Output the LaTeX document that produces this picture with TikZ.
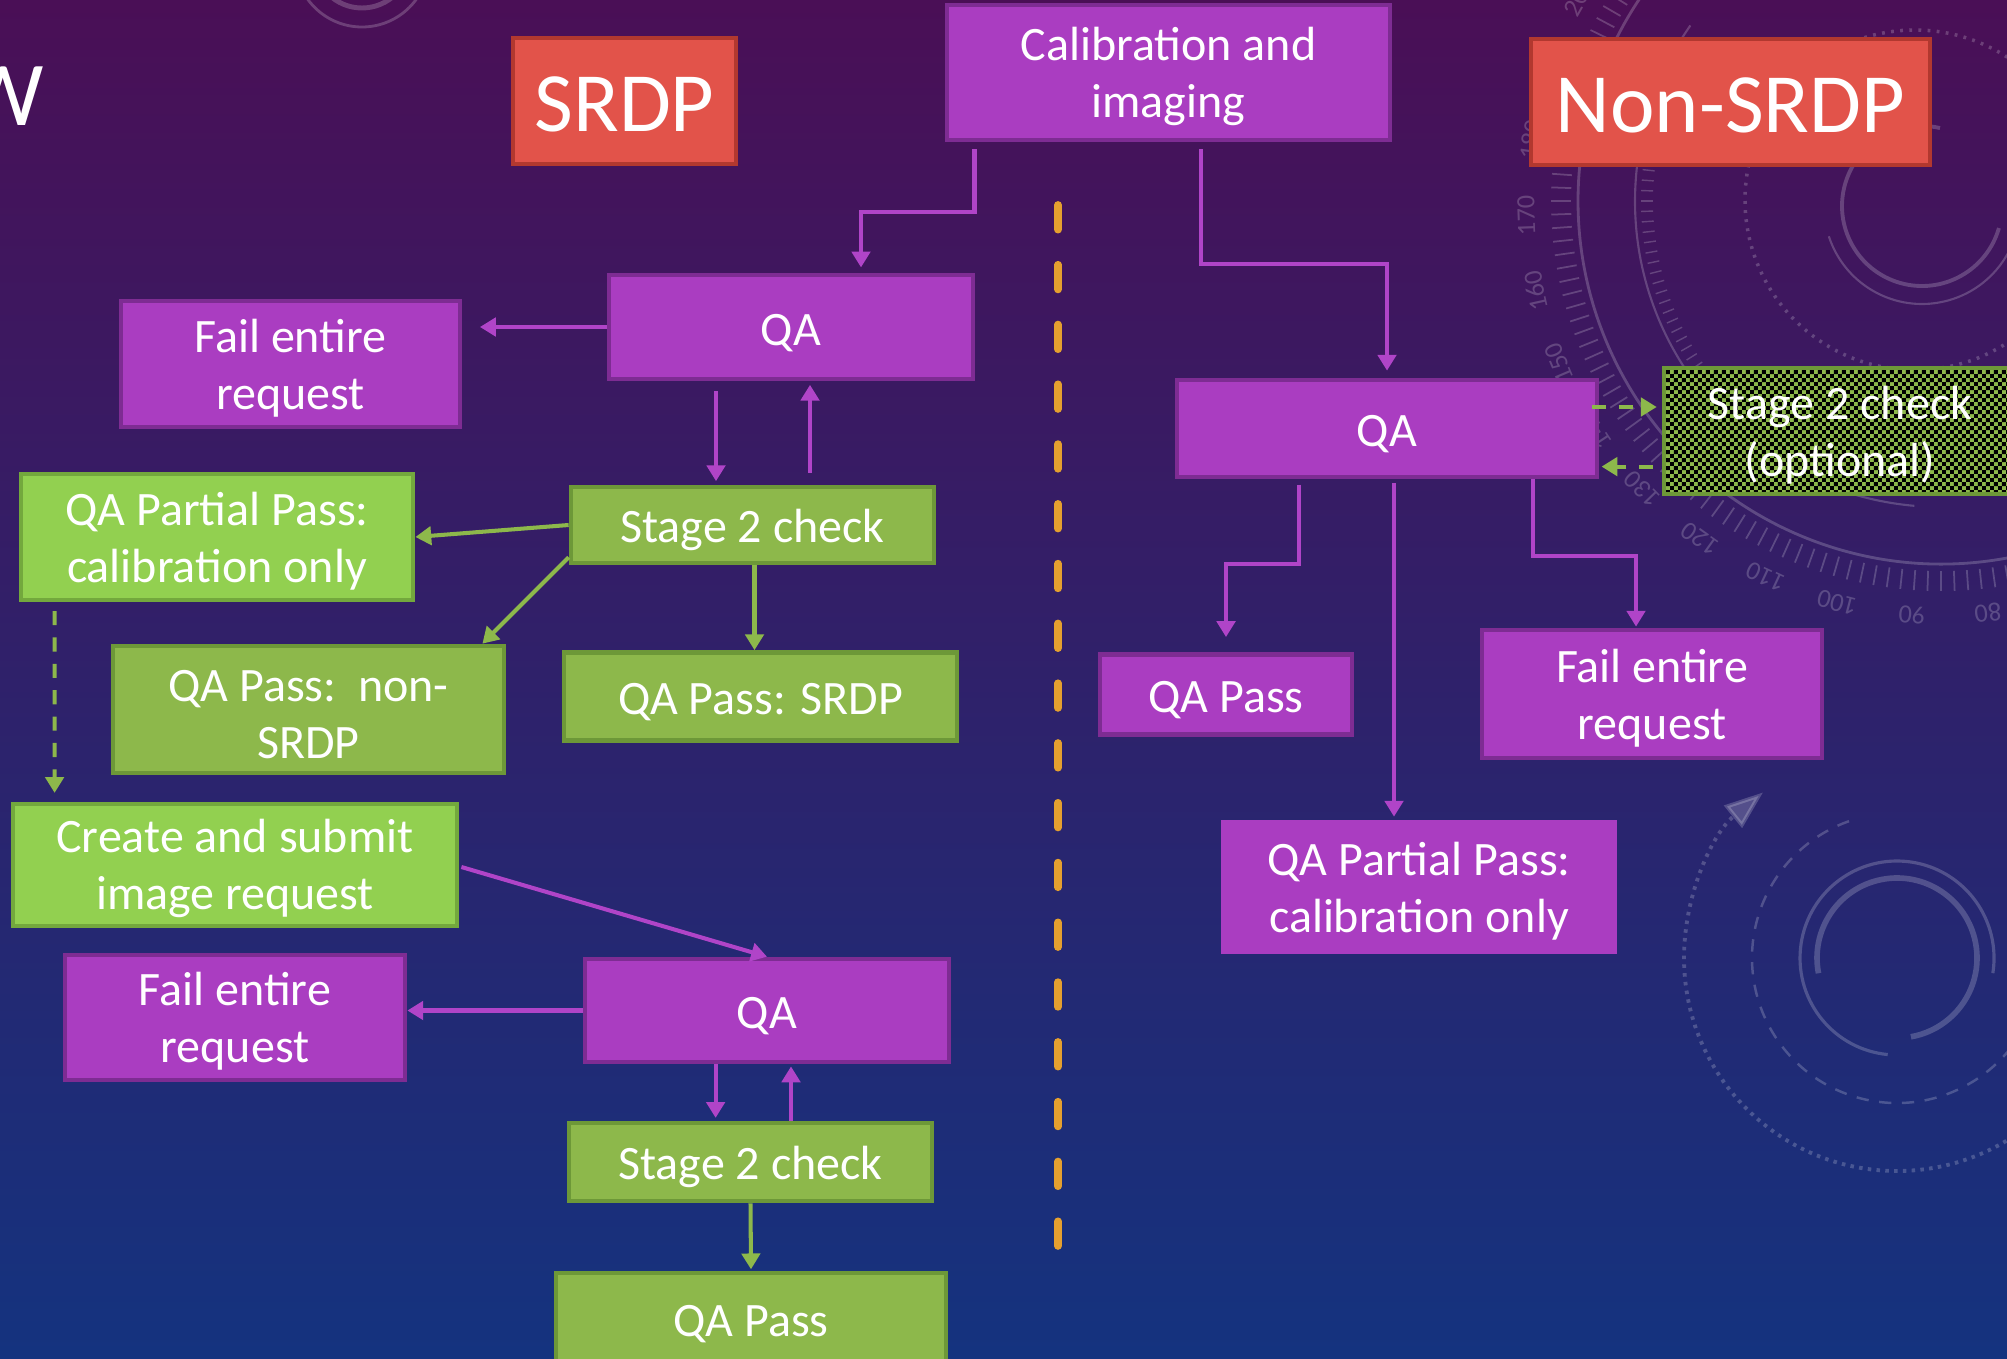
\documentclass[tikz,border=0pt]{standalone}
\usepackage{fontspec}
\setmainfont{Carlito}
\usetikzlibrary{arrows.meta,patterns,calc}

% fine black checkerboard laid over the optional check box
\pgfdeclarepatternformonly{finecheck}{\pgfpointorigin}{\pgfqpoint{2.4pt}{2.4pt}}{\pgfqpoint{2.4pt}{2.4pt}}{%
  \pgfpathrectangle{\pgfpointorigin}{\pgfqpoint{1.2pt}{1.2pt}}%
  \pgfpathrectangle{\pgfqpoint{1.2pt}{1.2pt}}{\pgfqpoint{1.2pt}{1.2pt}}%
  \pgfusepath{fill}}

% taller first line, so two-line labels sit a little lower in their boxes
\newcommand\firstline{\rule{0pt}{11.7pt}}

\definecolor{bgtop}{HTML}{4A0F56}
\definecolor{bgmid}{HTML}{2E1E6A}
\definecolor{bgbot}{HTML}{14337F}
\definecolor{boxpurple}{HTML}{AA3DC1}
\definecolor{edgepurple}{HTML}{7E2C93}
\definecolor{linepurple}{HTML}{B044C8}
\definecolor{boxgreen}{HTML}{8DB84B}
\definecolor{edgegreen}{HTML}{6D9838}
\definecolor{boxlime}{HTML}{92D050}
\definecolor{edgelime}{HTML}{73A83D}
\definecolor{boxred}{HTML}{E2534A}
\definecolor{edgered}{HTML}{B2382F}
\definecolor{divider}{HTML}{E5A02F}

\begin{document}
\begin{tikzpicture}[x=0.01cm, y=-0.01cm,
  base/.style={text=white, align=center, inner sep=0pt, line width=1.3pt,
    font=\fontsize{13.65}{16.2}\selectfont,
    execute at begin node={\rule{0pt}{12.3pt}}},
  pbox/.style={base, fill=boxpurple, draw=edgepurple},
  gbox/.style={base, fill=boxgreen, draw=edgegreen},
  lbox/.style={base, fill=boxlime, draw=edgelime},
  rbox/.style={base, fill=boxred, draw=edgered, font=\fontsize{24}{28}\selectfont,
    execute at begin node={\rule{0pt}{17.4pt}}},
  chkbox/.style={base, draw=edgegreen, preaction={fill=boxgreen},
    pattern=finecheck, pattern color=black},
  parrow/.style={draw=linepurple, line width=1.15pt, -{Triangle[length=4.5pt,width=5.2pt]}},
  garrow/.style={draw=boxgreen, line width=1.15pt, -{Triangle[length=4.5pt,width=5.2pt]}},
  gdash/.style={garrow, dash pattern=on 4pt off 3.5pt},
  deco/.style={white, opacity=0.2},
]
\useasboundingbox (0,0) rectangle (2007,1358);
\begin{scope}
\clip (0,0) rectangle (2007,1358);

% backdrop
\shade[top color=bgtop, middle color=bgmid, bottom color=bgbot] (0,0) rectangle (2007,1358);

% faint dial ornaments
\begin{scope}[deco]
  \coordinate (pc) at (1941,201);
  \draw[line width=0.8pt] ($(pc)+(70:363)$) arc[start angle=70, end angle=222, radius=363];
  \draw[line width=0.6pt] ($(pc)+(95:306)$) arc[start angle=95, end angle=215, radius=306];
  \foreach \a in {72,74,...,214}
    \draw[line width=0.5pt] ($(pc)+(\a:370)$) -- ($(pc)+(\a:390)$);
  \foreach \a in {120,122,...,206}
    \draw[line width=0.4pt] ($(pc)+(\a:288)$) -- ($(pc)+(\a:300)$);
  \foreach \n in {80,90,...,200} {
    \pgfmathsetmacro\ang{1.05*\n-0.5}
    \node[font=\fontsize{7.5}{8}\selectfont, rotate={-\ang-90}] at ($(pc)+(\ang:415)$) {\n};
  }
  \draw[line width=1pt, dash pattern=on 0.8pt off 1.8pt] (1915,200) circle[radius=170];
  \coordinate (c2) at (1922,206);
  \draw[line width=1.1pt] ($(c2)+(16:80)$) arc[start angle=16, end angle=283, radius=80];
  \draw[line width=0.6pt] ($(c2)+(-10:98)$) arc[start angle=-10, end angle=162, radius=98];

  \coordinate (c3) at (1897,958);
  \draw[line width=1.6pt] ($(c3)+(169:80)$) arc[start angle=169, end angle=440, radius=80];
  \draw[line width=0.9pt] ($(c3)+(95.5:97)$) arc[start angle=95.5, end angle=369, radius=97];
  \draw[line width=0.7pt, dash pattern=on 3.5pt off 3pt] ($(c3)+(20:145)$) arc[start angle=20, end angle=252, radius=145];
  \draw[line width=1.1pt, dash pattern=on 1pt off 1.5pt, -{Triangle[length=11pt,width=8pt]}]
    ($(c3)+(0:213)$) arc[start angle=0, end angle=231, radius=213];

  \draw[line width=0.8pt] (362,-40) circle[radius=67];
  \draw[line width=1.4pt] (362,-40) circle[radius=48];
\end{scope}

% slide title fragment
\node[text=white, anchor=east, inner sep=0pt, font=\fontsize{26}{30}\selectfont] (ttl) at (45,96) {W};

% divider between the two flows
\coordinate (dtop) at (1058,205);
\coordinate (dbot) at (1058,1268);
\draw[divider, line width=2.2pt, line cap=round, dash pattern=on 7pt off 10pt] (dtop) -- (dbot);

% headers and common start
\node[rbox, minimum width=2.23cm, minimum height=1.26cm] (srdp) at (624.5,101) {SRDP};
\node[pbox, minimum width=4.43cm, minimum height=1.35cm] (cal) at (1168.5,72.5) {\firstline Calibration and\\imaging};
\node[rbox, minimum width=3.99cm, minimum height=1.26cm] (nsrdp) at (1730.5,102) {Non-SRDP};

% SRDP flow
\node[pbox, minimum width=3.64cm, minimum height=1.04cm] (qa1) at (791,327) {QA};
\node[pbox, minimum width=3.39cm, minimum height=1.26cm] (fail1) at (290.5,364) {\firstline Fail entire\\request};
\node[gbox, minimum width=3.63cm, minimum height=0.76cm] (s2a) at (752.5,525) {Stage 2 check};
\node[lbox, minimum width=3.92cm, minimum height=1.26cm] (qapp1) at (217,537) {\firstline QA Partial Pass:\\calibration only};
\node[gbox, minimum width=3.91cm, minimum height=1.27cm] (qapnon) at (308.5,709.5) {\firstline QA Pass:\ \ non-\\SRDP};
\node[gbox, minimum width=3.93cm, minimum height=0.88cm] (qapsrdp) at (760.5,696.5) {QA Pass: SRDP};
\node[lbox, minimum width=4.44cm, minimum height=1.22cm] (create) at (235,865) {\firstline Create and submit\\image request};
\node[pbox, minimum width=3.40cm, minimum height=1.25cm] (fail2) at (235,1017.5) {\firstline Fail entire\\request};
\node[pbox, minimum width=3.64cm, minimum height=1.03cm] (qa2) at (767,1010.5) {QA};
\node[gbox, minimum width=3.63cm, minimum height=0.78cm] (s2b) at (750.5,1162) {Stage 2 check};
\node[gbox, minimum width=3.90cm, minimum height=0.90cm] (qapb) at (751,1318) {QA Pass};

% non-SRDP flow
\node[pbox, minimum width=4.20cm, minimum height=0.97cm] (qar) at (1387,428.5) {QA};
\node[chkbox, minimum width=3.52cm, minimum height=1.26cm] (s2opt) at (1840,431) {\firstline Stage 2 check\\(optional)};
\node[pbox, minimum width=2.52cm, minimum height=0.80cm] (qapr) at (1226,694.5) {QA Pass};
\node[pbox, minimum width=3.40cm, minimum height=1.28cm] (failr) at (1652,694) {\firstline Fail entire\\request};
\node[pbox, draw=boxpurple, minimum width=3.92cm, minimum height=1.29cm] (qappr) at (1419,887) {\firstline QA Partial Pass:\\calibration only};

% SRDP connectors
\draw[parrow, shorten <=2pt, shorten >=1.5pt] ($(cal.south)+(-194,0)$) -- ++(0,70) -| ($(qa1.north)+(70,0)$);
\draw[parrow, shorten >=5pt] (qa1.west) -- (qa1.west -| fail1.east);
\draw[parrow, shorten <=2.8pt, shorten >=1pt] ($(qa1.south)+(-75,0)$) -- ($(s2a.north)+(-36.5,0)$);
\draw[parrow, shorten <=3.4pt, shorten >=1pt] ($(s2a.north)+(57.5,0)$) -- ($(qa1.south)+(19,0)$);
\draw[garrow] (s2a.west) -- (qapp1.east);
\draw[garrow] ($(s2a.south west)+(0,-8)$) -- ($(qapnon.north east)+(-24,0)$);
\draw[garrow] ($(s2a.south)+(2,0)$) -- ($(qapsrdp.north)+(-6,0)$);
\draw[gdash, shorten <=2.5pt, shorten >=2.5pt] ($(qapp1.south west)+(36,0)$) -- ($(create.north west)+(44,0)$);
\draw[parrow] ($(create.east)+(2,2)$) -- (qa2.north);
\draw[parrow] (qa2.west) -- (qa2.west -| fail2.east);
\draw[parrow, shorten >=0.8pt] ($(qa2.south)+(-51.4,0)$) -- ($(s2b.north)+(-34.9,0)$);
\draw[parrow, shorten >=0.6pt] ($(s2b.north)+(40.5,0)$) -- ($(qa2.south)+(24,0)$);
\draw[garrow, shorten >=0.4pt] (s2b.south) -- (qapb.north);

% non-SRDP connectors
\draw[parrow, shorten <=2pt, shorten >=2pt] ($(cal.south)+(32.5,0)$) -- ++(0,122) -| (qar.north);
\draw[gdash, shorten <=-2pt, shorten >=1.4pt] ($(qar.east)+(0,-21.5)$) -- ($(s2opt.west)+(0,-24)$);
\draw[gdash, shorten <=2.5pt, shorten >=0.6pt] ($(s2opt.west)+(0,35.6)$) -- ($(qar.east)+(0,38.1)$);
\draw[parrow, shorten <=1.5pt, shorten >=4.3pt] ($(qar.south)+(-88.4,0)$) -- ++(0,85) -| (qapr.north);
\draw[parrow, shorten <=1pt, shorten >=1pt] ($(qar.south)+(7,0)$) -- ($(qappr.north)+(-25,0)$);
\draw[parrow, shorten >=0.3pt] ($(qar.south)+(146,0)$) -- ++(0,77) -| ($(failr.north)+(-16,0)$);
\end{scope}
\end{tikzpicture}
\end{document}
